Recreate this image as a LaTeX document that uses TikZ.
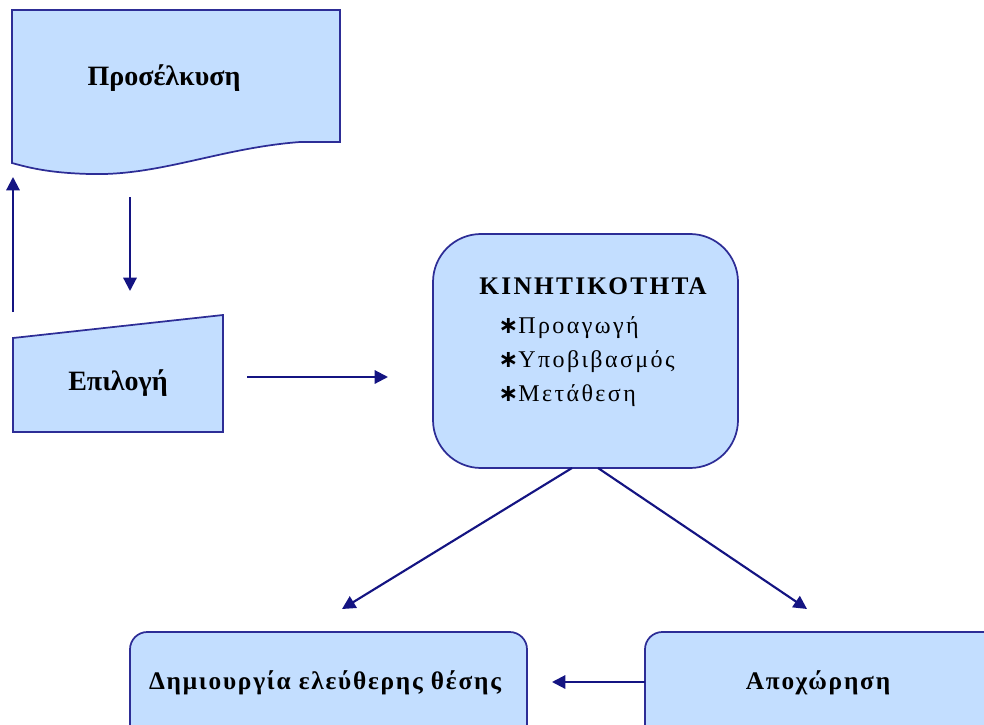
\documentclass[tikz,border=0pt]{standalone}
\usepackage{fontspec}
\setmainfont{Liberation Serif}
\newfontfamily\astfont{DejaVu Sans}
\usetikzlibrary{arrows.meta}
\definecolor{boxfill}{RGB}{195,222,255}
\definecolor{boxline}{RGB}{45,45,150}
\definecolor{arrowc}{RGB}{20,20,130}
\newcommand{\myast}{{\astfont\bfseries ∗}}
\tikzset{
  shapeline/.style={draw=boxline, fill=boxfill, line width=1.3pt},
  conn/.style={draw=arrowc, line width=1.6pt, -{Triangle[length=10pt,width=10pt]}},
  titletext/.style={font=\bfseries\fontsize{21}{24}\selectfont, inner sep=0pt},
  boxtext/.style={font=\bfseries\fontsize{19}{22}\selectfont\addfontfeatures{LetterSpace=7}, inner sep=0pt},
  itemtext/.style={font=\fontsize{18}{20}\selectfont\addfontfeatures{LetterSpace=10}, inner sep=0pt, anchor=west},
}
\begin{document}
\begin{tikzpicture}[x=0.75pt, y=-0.75pt]
\useasboundingbox (0,0) rectangle (984,724);
\clip (0,0) rectangle (984,724);
% Document shape
\draw[shapeline] (12,10) -- (340,10) -- (340,142) -- (300,142)
  .. controls (220,148) and (160,176) .. (90,174)
  .. controls (50,173) and (30,168) .. (12,163) -- cycle;
\node[titletext] (pros) at (164,78) {Προσέλκυση};
% Manual input shape
\draw[shapeline] (13,338) -- (223,315) -- (223,432) -- (13,432) -- cycle;
\node[titletext] (epil) at (118,383) {Επιλογή};
% Mobility box
\draw[shapeline, rounded corners=36pt] (433,234) rectangle (738,468);
\node[font=\bfseries\fontsize{19}{22}\selectfont\addfontfeatures{LetterSpace=9}, inner sep=0pt] (kint) at (593,286) {ΚΙΝΗΤΙΚΟΤΗΤΑ};
\node[itemtext] (i1) at (498,328) {\myast Προαγωγή};
\node[itemtext] (i2) at (498,362) {\myast Υποβιβασμός};
\node[itemtext] (i3) at (498,396) {\myast Μετάθεση};
% Bottom boxes
\draw[shapeline, rounded corners=13pt] (130,632) rectangle (527,760);
\node[boxtext] (dim) at (325,683) {Δημιουργία ελεύθερης θέσης};
\draw[shapeline, rounded corners=13pt] (645,632) rectangle (1010,760);
\node[boxtext] (apo) at (818,683) {Αποχώρηση};
% connector coordinates
\coordinate (a1s) at (13,312); \coordinate (a1e) at (13,177);
\coordinate (a2s) at (130,197); \coordinate (a2e) at (130,291);
\coordinate (a3s) at (247,377); \coordinate (a3e) at (388,377);
\coordinate (a4s) at (572,468); \coordinate (a4e) at (342,609);
\coordinate (a5s) at (598,468); \coordinate (a5e) at (807,609);
\coordinate (a6s) at (645,682); \coordinate (a6e) at (552,682);
\draw[conn] (a1s) -- (a1e);
\draw[conn] (a2s) -- (a2e);
\draw[conn] (a3s) -- (a3e);
\draw[conn] (a4s) -- (a4e);
\draw[conn] (a5s) -- (a5e);
\draw[conn] (a6s) -- (a6e);
\end{tikzpicture}
\end{document}
